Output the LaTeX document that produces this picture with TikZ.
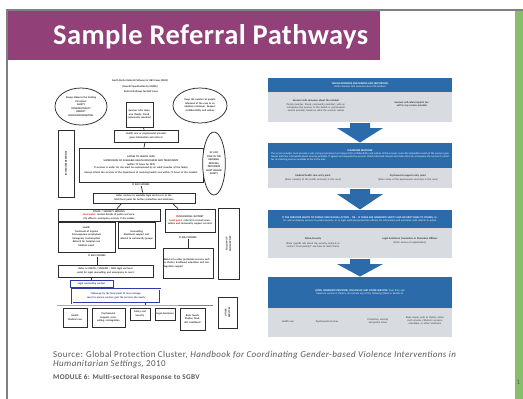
\documentclass[tikz,border=0pt]{standalone}
\usepackage{fontspec}
\setmainfont{Carlito}
\usetikzlibrary{shapes.geometric,calc}
\definecolor{titlepurple}{RGB}{145,64,120}
\definecolor{slidegreen}{RGB}{134,190,108}
\definecolor{framegray}{RGB}{128,128,128}
\definecolor{footgray}{RGB}{89,89,89}
\definecolor{chartblue}{RGB}{43,107,170}
\definecolor{chartgray}{RGB}{216,219,224}
\definecolor{lineink}{RGB}{45,45,45}
\definecolor{bodyink}{RGB}{50,50,55}
\definecolor{linkblue}{RGB}{45,60,170}
\newcommand\tnyL{\fontsize{2.6}{3.5}\selectfont\bfseries}
\newcommand\tnyR{\fontsize{2.6}{3.2}\selectfont}
\begin{document}
\begin{tikzpicture}[x=1pt,y=-1pt,
  lbox/.style={draw=lineink, line width=0.75pt, fill=white, inner sep=0.6pt, align=center, font=\tnyL, text=lineink},
  lell/.style={ellipse, draw=lineink, line width=0.75pt, fill=white, inner sep=0pt, align=center, font=\tnyL, text=lineink},
  ltext/.style={inner sep=0pt, align=center, font=\tnyL, text=lineink},
  lconn/.style={draw=lineink, line width=0.7pt},
  bhead/.style={fill=chartblue, text=white, anchor=north west, minimum width=184pt, inner sep=0pt, outer sep=0pt},
  bbody/.style={fill=chartgray, anchor=north west, minimum width=184pt, inner sep=0pt, outer sep=0pt},
  rtext/.style={inner sep=0pt, align=center, font=\tnyR},
]
\useasboundingbox (0,0) rectangle (523,399);
\fill[white] (0,0) rectangle (523,399);

% slide frame
\fill[slidegreen] (515,11) rectangle (523,399);
\fill[titlepurple] (7.6,11) rectangle (380,60);
\draw[framegray, line width=1.3pt] (6,10) -- (523,10);
\draw[framegray, line width=1.3pt] (7,10) -- (7,399);
\node[anchor=base west, inner sep=0pt, text=white, font=\fontsize{28.5}{30}\selectfont\bfseries\addfontfeatures{LetterSpace=1.5}] (title) at (53,44) {Sample Referral Pathways};

% ---------------- left chart ----------------
\node[ltext] (lt1) at (140,81) {North Darfur Referral Pathway for GBV Cases (2009)};
\node[ltext] (lt2) at (140,86.5) {(Overall Coordination by UNFPA)};
\node[ltext] (lt3) at (141,92) {Referral Pathway for GBV Cases};
\node[lell, minimum width=52pt, minimum height=37pt] (lellA) at (81,106.5) {Always Observe the Guiding\\Principles:\\SAFETY\\CONFIDENTIALITY\\RESPECT\\NON-DISCRIMINATION};
\node[lell, minimum width=54pt, minimum height=35pt, text width=38pt] (lellB) at (200,105.5) {Keep the number of people informed of the case to an absolute minimum. Respect confidentiality and wishes};
\node[lbox, minimum width=27pt, minimum height=25pt, text width=25pt] (lc1) at (139.5,114.5) {Survivor tells someone (family, friend, community member)};
\node[lbox, minimum width=64pt, minimum height=12pt, text width=62pt] (lc2) at (146,136) {Health care or psychosocial provider gives information and referral};
\node[lbox, minimum width=16pt, minimum height=67pt] (lvert) at (66,163.5) {};
\node[ltext, rotate=90] (lvt) at (66,163.5) {IMMEDIATE RESPONSE};
\node[lbox, minimum width=124pt, minimum height=34pt, text width=120pt] (lbig) at (141,165) {ACCESS TO HEALTH CARE\\[1pt]SUPERVISION OF AVAILABLE HEALTH RESOURCES AND TREATMENTS\\(within 72 hours for PEP)\\If survivor is under 18, she must be accompanied by an adult member of the family\\[1.5pt]Always inform the survivor of the importance of receiving health care within 72 hours of the incident};
\node[ltext] (lch1) at (141,185) {IF SHE CHOOSES};
\node[lell, minimum width=20pt, minimum height=63pt, text width=16pt] (lellC) at (214,163.5) {AT ANY TIME IN THE REFERRAL PROCESS, PROVIDERS MUST ENSURE SAFETY};
\node[lbox, minimum width=102pt, minimum height=10pt, text width=100pt] (lc3) at (144,198) {Refer survivor to available legal services or to the NGO focal point for further protection and assistance};
\node[lbox, minimum width=102pt, minimum height=12pt, text width=100pt] (llow) at (109,215) {POLICE / SECURITY SERVICES\\{\color{red}Focal point:} contact details of police and security officers; accompany survivor if she wishes};
\node[lbox, minimum width=50pt, minimum height=23pt, text width=48pt] (lpsy) at (190,220.5) {PSYCHOSOCIAL SUPPORT\\{\color{red}Focal point:} referral to trained counsellors and community support services};
\node[lbox, minimum width=21pt, minimum height=71pt] (lrv1) at (228.5,244) {};
\node[ltext, rotate=90] (lrv1t) at (228.5,244) {FOLLOW-UP\\AND SUPPORT};
\node[lbox, minimum width=57pt, minimum height=30pt, text width=55pt] (lhea) at (86.5,237) {Health\\Treatment of injuries\\Post-exposure prophylaxis\\Emergency contraception\\Referral for hospital care\\Medical report};
\node[lbox, minimum width=37pt, minimum height=26pt, text width=35pt] (lcoun) at (136.5,235) {Counselling\\Emotional support and referral to community groups};
\node[ltext] (lch2) at (97,256) {IF SHE CHOOSES};
\node[ltext] (lch3) at (188,237.5) {IF SHE CHOOSES};
\node[lbox, minimum width=50pt, minimum height=30pt, text width=48pt, align=left] (lrb) at (188,263) {Referral to other protection services such as shelter, livelihood, education and reintegration support};
\node[lbox, minimum width=95pt, minimum height=12pt, text width=93pt] (lleg) at (105.5,271) {Refer to UNMIS / UNAMID / NGO legal aid focal point for legal counselling and accompany to court};
\node[lbox, draw=linkblue, minimum width=43pt, minimum height=7pt, text width=41pt, text=linkblue] (llink) at (91.5,283.5) {Legal counselling contact};
\node[lbox, draw=linkblue, double, double distance=0.4pt, line width=0.5pt, minimum width=88pt, minimum height=14pt, text width=84pt, text=linkblue] (ldbl) at (116,296) {Follow-up by the focal point of case management to ensure survivor gets the services she needs};
\coordinate (lhl) at (145,305);
\draw[lineink!60, line width=0.6pt] (57,305) -- (lhl) -- (213,305);
\node[lbox, minimum width=24pt, minimum height=19pt, text width=22pt] (lb1) at (75,317.5) {Health\\Medical care};
\node[lbox, minimum width=33pt, minimum height=19pt, text width=31pt] (lb2) at (108.5,317.5) {Psychosocial\\Support, counselling, reintegration};
\node[lbox, minimum width=20pt, minimum height=12pt, text width=18pt] (lb3) at (140,314) {Safety and Security};
\node[lbox, minimum width=20pt, minimum height=12pt, text width=18pt] (lb4) at (165,314) {Legal Assistance};
\node[lbox, minimum width=25pt, minimum height=22pt, text width=23pt] (lb5) at (192.5,319) {Basic Needs\\Shelter, food, NFI, livelihood};
\node[lbox, minimum width=19pt, minimum height=31pt] (lrv2) at (227.5,312.5) {};
\node[ltext, rotate=90] (lrv2t) at (227.5,312.5) {OTHER\\SERVICES};
\draw[lconn] (lc1) -- (lc2);
\draw[lconn] (lc2) -- (lbig);
\draw[lconn] (lch1) -- (lc3);
\draw[lconn] ($(lc3.south west)+(29,0)$) -- ($(llow.north)+(8,0)$);
\draw[lconn] ($(lc3.south east)+(-23,0)$) -- ($(lpsy.north)+(-12,0)$);
\draw[lconn] (lch2) -- (lleg.north -| lch2);
\draw[lconn] (lch3) -- (lrb);
\draw[lconn] (lleg.south -| llink) -- (llink);
\draw[lconn] (ldbl.south -| lhl) -- (lhl);

% ---------------- right chart ----------------
\node[bhead, minimum height=14pt] (h1) at (268,78) {};
\node[rtext, text=white] (h1t) at (h1) {\textbf{TELLING SOMEONE AND SEEKING HELP (REPORTING)}\\Victim/Survivor tells someone about the incident};
\node[bbody, minimum height=30pt] (b1) at (268,92) {};
\node[rtext, text width=82pt, text=bodyink] (b1l) at (316,106) {\textbf{Survivor tells someone about the incident}\\(family member, friend, community member), who accompanies the survivor to the health or psychosocial service provider, based on what the survivor wishes};
\node[rtext, text width=62pt, text=bodyink] (b1r) at (412,104) {\textbf{Survivor self-refers/reports herself to any service provider}};
\node[bhead, minimum height=25pt] (h2) at (268,143) {};
\node[rtext, text=white, text width=178pt, align=justify] (h2t) at (h2) {\centering\textbf{IMMEDIATE RESPONSE}\par The service provider must provide a safe, caring environment and respect the confidentiality and wishes of the survivor. Learn the immediate needs of the survivor, give honest and clear information about services available. If agreed and requested by survivor, obtain informed consent and make referrals; accompany the survivor to assist her in accessing services available to her in the area.};
\node[bbody, minimum height=20pt] (b2) at (268,168) {};
\node[rtext, text width=84pt, text=bodyink] (b2l) at (313,178) {\textbf{Medical/health care entry point}\\[1.2pt](Enter name(s) of the health service(s) in this area)};
\node[rtext, text width=84pt, text=bodyink] (b2r) at (408,177.5) {\textbf{Psychosocial support entry point}\\[1.2pt](Enter name of the psychosocial service(s) in this area)};
\node[bhead, minimum height=18pt] (h3) at (268,210) {};
\node[rtext, text=white, text width=178pt] (h3t) at (h3) {\textbf{IF THE SURVIVOR WANTS TO PURSUE POLICE/LEGAL ACTION -- OR -- IF THERE ARE IMMEDIATE SAFETY AND SECURITY RISKS TO OTHERS:} Refer and accompany survivor to police/security; or to legal assistance/protection officers for information and assistance with referral to police};
\node[bbody, minimum height=30pt] (b3) at (268,228) {};
\node[rtext, text width=78pt, text=bodyink] (b3l) at (313,243) {\textbf{Police/Security}\\[1.2pt](Enter specific info about the security contacts or contact ``focal point(s)'' and how to reach them)};
\node[rtext, text width=82pt, text=bodyink] (b3r) at (410,241) {\textbf{Legal Assistance Counselors or Protection Officers}\\[1.2pt](Enter names of organizations)};
\node[bhead, minimum height=31pt] (h4) at (268,277) {};
\node[rtext, text=white, text width=172pt] (h4t) at (h4) {\textbf{AFTER IMMEDIATE RESPONSE, FOLLOW-UP AND OTHER SERVICES:} Over time and based on survivor's choices can include any of the following (listed in Section 6)};
\node[bbody, minimum height=29pt] (b4) at (268,308) {};
\node[rtext, text=bodyink] (b4a) at (288,322) {Health care};
\node[rtext, text=bodyink] (b4b) at (327,322) {Psychosocial services};
\node[rtext, text width=36pt, text=bodyink] (b4c) at (378,321.5) {Protection, security and justice actors};
\node[rtext, text width=40pt, text=bodyink] (b4d) at (425,321) {Basic needs, such as shelter, ration card services, children's services, education, or other assistance};
% block arrows between the stages
\foreach \a/\b in {b1/h2, b2/h3, b3/h4}{
  \fill[chartblue] ($(\a.south)+(-10,1)$) -- ($(\a.south)+(10,1)$) -- ($(\a.south)+(10,6)$) -- ($(\a.south)+(23,6)$) -- ($(\b.north)+(0,-0.5)$) -- ($(\a.south)+(-23,6)$) -- ($(\a.south)+(-10,6)$) -- cycle;
}

% ---------------- footer ----------------
\node[anchor=base west, inner sep=0pt, text=footgray, font=\fontsize{9}{10}\selectfont\addfontfeatures{LetterSpace=4.5}] (src1) at (53,357.5) {Source: Global Protection Cluster, \textit{Handbook for Coordinating Gender-based Violence Interventions in}};
\node[anchor=base west, inner sep=0pt, text=footgray, font=\fontsize{9}{10}\selectfont\addfontfeatures{LetterSpace=4.5}] (src2) at (53,366.8) {\textit{Humanitarian Settings}, 2010};
\node[anchor=base west, inner sep=0pt, text=footgray, font=\fontsize{7.2}{8}\selectfont\bfseries\addfontfeatures{LetterSpace=5}] (mod) at (53,379) {MODULE 6: Multi-sectoral Response to SGBV};
\node[anchor=base west, inner sep=0pt, text=footgray, font=\fontsize{6.8}{8}\selectfont] (pg) at (516.5,384.5) {1};
\end{tikzpicture}
\end{document}
